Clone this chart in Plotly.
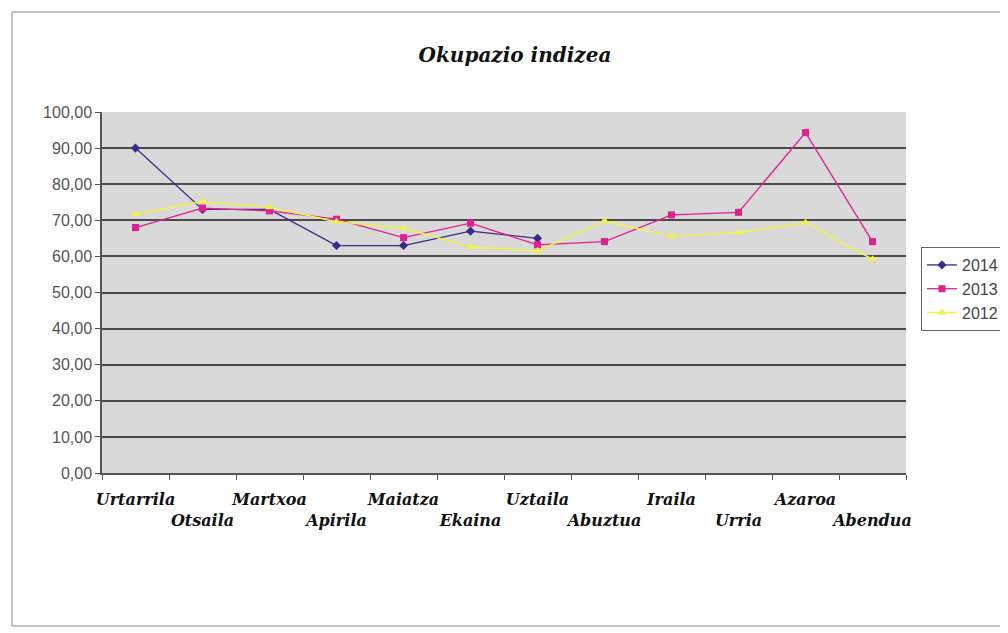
import plotly.graph_objects as go

months = ["Urtarrila", "Otsaila", "Martxoa", "Apirila", "Maiatza", "Ekaina",
          "Uztaila", "Abuztua", "Iraila", "Urria", "Azaroa", "Abendua"]
v2014 = [90.0, 73.0, 73.0, 63.0, 63.0, 67.0, 65.0]
v2013 = [68.0, 73.4, 72.6, 70.3, 65.2, 69.2, 63.2, 64.1, 71.5, 72.2, 94.3, 64.1]
v2012 = [71.7, 75.2, 73.6, 69.6, 67.8, 62.7, 61.5, 69.8, 65.6, 66.6, 69.3, 59.2]
ytick_vals = [0, 10, 20, 30, 40, 50, 60, 70, 80, 90, 100]
ytick_text = ["0,00", "10,00", "20,00", "30,00", "40,00", "50,00", "60,00",
              "70,00", "80,00", "90,00", "100,00"]

# staggered, bold italic month labels
xtick_text = ["<b><i>" + m + "</i></b>" if i % 2 == 0 else "<br><b><i>" + m + "</i></b>"
              for i, m in enumerate(months)]

OFF = 8  # page body margin
W, H = 1000, 625
L, R, T, B = 102 - OFF, 906 - OFF, 112 - OFF, 473 - OFF

fig = go.Figure()
fig.add_trace(go.Scatter(x=months[:len(v2014)], y=v2014, name="2014", mode="lines+markers",
                         line=dict(color="#3a2a8a", width=1.3),
                         marker=dict(symbol="diamond", size=7, color="#3a2a8a")))
fig.add_trace(go.Scatter(x=months, y=v2013, name="2013", mode="lines+markers",
                         line=dict(color="#e0208e", width=1.3),
                         marker=dict(symbol="square", size=7, color="#e0208e")))
fig.add_trace(go.Scatter(x=months, y=v2012, name="2012", mode="lines+markers",
                         line=dict(color="#f0f050", width=1.6),
                         marker=dict(symbol="triangle-up", size=8, color="#f0f050")))

def px_x(p):
    return (p - OFF - L) / (R - L)

def px_y(p):
    return (B - (p - OFF)) / (B - T)

fig.update_layout(
    width=W, height=H,
    margin=dict(l=L, r=W - R, t=T, b=H - B, autoexpand=False),
    paper_bgcolor="white",
    plot_bgcolor="#d9d9d9",
    title=dict(text="<b><i>Okupazio indizea</i></b>", x=(515 - OFF) / W, xanchor="center",
               y=1 - (55 - OFF) / H, yanchor="middle",
               font=dict(family="DejaVu Serif", size=20, color="#111")),
    xaxis=dict(type="category", categoryorder="array", categoryarray=months,
               tickvals=months, ticktext=xtick_text, tickangle=0, automargin=False,
               tickson="boundaries", ticks="outside", ticklen=5, tickcolor="#555",
               showline=True, linecolor="#555", linewidth=1.5, showgrid=False,
               range=[-0.5, 11.5], ticklabelstandoff=11,
               tickfont=dict(family="DejaVu Serif", size=16, color="#111"),
               ),
    yaxis=dict(range=[0, 100], tickvals=ytick_vals, ticktext=ytick_text, automargin=False,
               ticks="outside", ticklen=5, tickcolor="#555",
               showline=True, linecolor="#555", linewidth=1.5,
               showgrid=True, gridcolor="#4a4a4a", gridwidth=1.8, zeroline=False,
               tickfont=dict(family="Liberation Sans", size=16, color="#555")),
    legend=dict(xref="container", yref="container", x=(921 - OFF) / W, y=1 - (247 - OFF) / H,
                xanchor="left", yanchor="top", bgcolor="white",
                bordercolor="#666", borderwidth=1,
                font=dict(family="Liberation Sans", size=16, color="#444"),
                tracegroupgap=2, itemwidth=30),
    showlegend=True,
    shapes=[dict(type="rect", xref="paper", yref="paper",
                 x0=px_x(12), x1=px_x(1004), y0=px_y(626), y1=px_y(12),
                 line=dict(color="#888", width=1), layer="below")],
)

fig.write_html("out.html")
